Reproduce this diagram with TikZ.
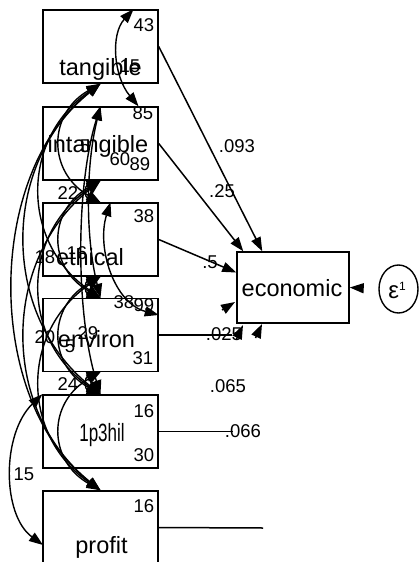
\documentclass[tikz,border=0pt]{standalone}
\usepackage{fontspec}
\setmainfont{Liberation Sans}
\usetikzlibrary{arrows.meta,calc,shapes.geometric}
\begin{document}
\begin{tikzpicture}[x=1pt,y=-1pt,
  box/.style={draw, line width=1.5pt, minimum width=115pt, minimum height=73pt, inner sep=0pt},
  nm/.style={font=\fontsize{23.5}{26}\selectfont, inner sep=0pt, anchor=base},
  num/.style={font=\fontsize{18.5}{20}\selectfont, inner sep=0pt},
  reg/.style={line width=1.5pt},
  head/.style={-{Triangle[length=14pt,width=10pt]}, line width=1.5pt},
  cov/.style={{Triangle[length=14pt,width=10pt]}-{Triangle[length=14pt,width=10pt]}, line width=1.4pt},
]
\clip (0,0) rectangle (419,562);

% observed variables
\node[box] (tangible)   at (100.5,46.5)  {};
\node[box] (intangible) at (100.5,143.5) {};
\node[box] (ethical)    at (100.5,239.5) {};
\node[box] (environ)    at (100.5,335)   {};
\node[box] (phil)       at (100.5,431.5) {};
\node[box] (profit)     at (100.5,527.5) {};
\node[box, minimum width=112pt, minimum height=71pt] (econ) at (293,287.5) {};
\node[draw, ellipse, line width=1.4pt, minimum width=39pt, minimum height=48pt, inner sep=0pt] (eps) at (398.5,289) {};

% variable names
\node[nm] (tTxt) at (100.5,75)  {tangible};
\node[nm] (iTxt) at (98,152)    {intangible};
\node[nm] (eTxt) at (90,265)    {ethical};
\node[nm] (vTxt) at (96.5,347)  {environ};
\node[nm] (pTxt) at (102,441)   {\fontsize{25}{27}\selectfont\scalebox{0.68}[1]{1p3hil}};
\node[nm] (fTxt) at (101.5,553) {profit};
\node[nm] (cTxt) at (292,296)   {economic};
\node[inner sep=0pt] (epsTxt) at (397,290) {\fontsize{24}{26}\selectfont ε\raisebox{8pt}{\fontsize{12}{13}\selectfont 1}};

% numbers on and around the boxes
\node[num] (n43)  at (144,25)  {43};
\node[num] (n15a) at (130,66)  {15};
\node[num] (n85)  at (143,113) {85};
\node[num] (n5a)  at (85,146)  {5};
\node[num] (n60)  at (120,159) {60};
\node[num] (n89)  at (140,164) {89};
\node[num] (n22)  at (68,193)  {22};
\node[num] (n38a) at (144,216) {38};
\node[num] (n18)  at (45,257)  {18};
\node[num] (n16a) at (77,253)  {16};
\node[num] (n38b) at (124,302) {38};
\node[num] (n99)  at (144,305) {99};
\node[num] (n20)  at (45,337)  {20};
\node[num] (n29)  at (88,333)  {29};
\node[num] (n5b)  at (70,346)  {5};
\node[num] (n31)  at (143,358) {31};
\node[num] (n24)  at (68,384)  {24};
\node[num] (n16b) at (144,411) {16};
\node[num] (n30)  at (144,455) {30};
\node[num] (n15b) at (24,474)  {15};
\node[num] (n16c) at (144,506) {16};

% path coefficients
\node[num] (c093) at (237,146) {.093};
\node[num] (c25)  at (222,191) {.25};
\node[num] (c5)   at (210,262) {.5};
\node[num] (c025) at (224,334) {.025};
\node[num] (c065) at (228,386) {.065};
\node[num] (c066) at (243,431) {.066};

% paths into economic
\draw[head] (tangible.east) -- ($(econ.north west)+(26,0)$);
\draw[head] (intangible.east) -- ($(econ.north west)+(7,0)$);
\draw[head] (ethical.east) -- ($(econ.west)+(0,-15)$);
\coordinate (envEnd) at (232,335);
\coordinate (philEnd) at (233,431.5);
\coordinate (profEnd) at (263,528);
\draw[reg] (environ.east) -- (envEnd);
\draw[reg] (phil.east) -- (philEnd);
\draw[reg] (profit.east) -- (profEnd);
\coordinate (tipA) at (235,302);
\coordinate (tipB) at (262,324);
\coordinate (tipC) at (243,325);
\draw[head] ($(tipA)+(-13,8)$) -- (tipA);
\draw[head] ($(tipB)+(-6.5,14)$) -- (tipB);
\draw[head] ($(tipC)+(-6.5,14)$) -- (tipC);
\draw[head, shorten <=15pt] (eps.west) -- (econ.east);

% covariances
\draw[cov] (tangible.south) .. controls +(-53,30) and +(-53,-30) .. (ethical.north);
\draw[cov] (tangible.south) .. controls +(-80,55) and +(-80,-55) .. (environ.north);
\draw[cov] (tangible.south) .. controls +(-100,80) and +(-100,-80) .. (phil.north);
\draw[cov] (tangible.south) .. controls +(-116,90) and +(-116,-90) .. (profit.north);
\draw[cov] (intangible.south) .. controls +(-16,5) and +(-16,-5) .. (ethical.north);
\draw[cov] (intangible.south) .. controls +(-53,30) and +(-53,-30) .. (environ.north);
\draw[cov] (intangible.south) .. controls +(-80,55) and +(-80,-55) .. (phil.north);
\draw[cov] (intangible.south) .. controls +(-100,80) and +(-100,-80) .. (profit.north);
\draw[cov] (ethical.south) .. controls +(-16,5) and +(-16,-5) .. (environ.north);
\draw[cov] (ethical.south) .. controls +(-53,30) and +(-53,-30) .. (phil.north);
\draw[cov] (ethical.south) .. controls +(-80,55) and +(-80,-55) .. (profit.north);
\draw[cov] (environ.south) .. controls +(-16,5) and +(-16,-5) .. (phil.north);
\draw[cov] (environ.south) .. controls +(-53,30) and +(-53,-30) .. (profit.north);
\draw[cov] (intangible.north) .. controls +(-15,60) and +(-15,-60) .. (environ.north);
\draw[cov] (intangible.north) .. controls +(-25,80) and +(-25,-80) .. (phil.north);
\draw[cov] ([xshift=33pt]tangible.north) .. controls +(-23,25) and +(-25,-30) .. ([xshift=38pt]intangible.north);
\draw[cov] ([xshift=10pt]ethical.north) .. controls +(-14,45) and +(-45,-12) .. ([yshift=20pt]environ.east);
\coordinate (p15) at (43,545);
\draw[cov] (p15) .. controls +(-41,-30) and +(-41,40) .. (phil.north west);
\end{tikzpicture}
\end{document}
